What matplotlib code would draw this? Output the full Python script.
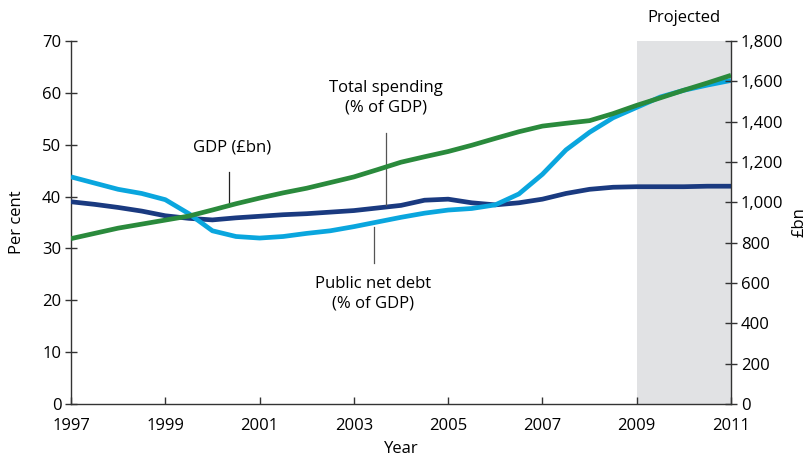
import matplotlib
matplotlib.use("Agg")
import matplotlib.pyplot as plt
import numpy as np

plt.rcParams['font.family'] = ['Open Sans', 'DejaVu Sans']

years = np.arange(1997, 2011.01, 0.5)
total_spending = [39.0, 38.5, 37.9, 37.2, 36.3, 35.8, 35.5, 35.9, 36.2, 36.5, 36.7, 37.0,
                  37.3, 37.8, 38.3, 39.3, 39.5, 38.8, 38.4, 38.8, 39.5, 40.6, 41.4, 41.8,
                  41.9, 41.9, 41.9, 42.0, 42.0]
net_debt = [43.8, 42.6, 41.4, 40.6, 39.4, 36.7, 33.4, 32.3, 32.0, 32.3, 32.9, 33.4,
            34.2, 35.1, 36.0, 36.8, 37.4, 37.7, 38.4, 40.5, 44.3, 49.0, 52.4, 55.2,
            57.2, 59.2, 60.5, 61.5, 62.4]
gdp_bn = [820, 846, 872, 892, 912, 932, 962, 993, 1021, 1047, 1070, 1098,
          1126, 1162, 1199, 1226, 1252, 1283, 1317, 1350, 1378, 1392, 1405, 1440,
          1481, 1518, 1556, 1592, 1630]
xticks = [1997, 1999, 2001, 2003, 2005, 2007, 2009, 2011]
left_ticks = [0, 10, 20, 30, 40, 50, 60, 70]
right_ticks = [0, 200, 400, 600, 800, 1000, 1200, 1400, 1600, 1800]
proj_start, proj_end = 2009, 2011

navy = '#1a3a80'
light = '#0aa6de'
green = '#2a8a3c'

fig = plt.figure(figsize=(8.07, 4.57), dpi=100)
ax = fig.add_axes([71/807, 53/457, 660/807, 363/457])
ax.set_xlim(1997, 2011)
ax.set_ylim(0, 70)
ax.axvspan(proj_start, proj_end, color='#e1e2e4', lw=0, zorder=0)

ax.plot(years, total_spending, color=navy, lw=3.4, solid_capstyle='butt', zorder=3)
ax.plot(years, net_debt, color=light, lw=3.4, solid_capstyle='butt', zorder=3)

ax2 = ax.twinx()
ax2.set_ylim(0, 1800)
ax2.plot(years, gdp_bn, color=green, lw=3.4, solid_capstyle='butt', zorder=4)

for a in (ax, ax2):
    a.spines['top'].set_visible(False)
    for s in ('left', 'right', 'bottom'):
        a.spines[s].set_color('#333333')
        a.spines[s].set_linewidth(1.0)
ax.spines['right'].set_visible(False)
ax2.spines['left'].set_visible(False)
ax2.spines['bottom'].set_visible(False)

ax.set_xticks(xticks)
ax.set_xticklabels([str(x) for x in xticks])
ax.set_yticks(left_ticks)
ax2.set_yticks(right_ticks)
ax2.set_yticklabels([f'{v:,}' for v in right_ticks])

ax.tick_params(axis='x', direction='in', length=5, width=1, color='#333333',
               labelsize=12, pad=10)
ax.tick_params(axis='y', direction='inout', length=8, width=1, color='#333333',
               labelsize=12, pad=3)
ax2.tick_params(axis='y', direction='inout', length=8, width=1, color='#333333',
                labelsize=12, pad=3)

ax.set_ylabel('Per cent', fontsize=12, labelpad=12)
ax2.set_ylabel('£bn', fontsize=12, labelpad=6)
ax.set_xlabel('Year', fontsize=12, labelpad=5)

# annotations
ax.plot([2000.35, 2000.35], [38.2, 44.7], color='#222222', lw=0.9, zorder=5)
ax.text(2000.42, 49.4, 'GDP (£bn)', ha='center', va='center', fontsize=12, zorder=6)

ax.plot([2003.68, 2003.68], [38.4, 52.3], color='#555555', lw=0.9, zorder=5)
ax.text(2003.68, 59.1, 'Total spending\n(% of GDP)', ha='center', va='center',
        fontsize=12, linespacing=1.3, zorder=6)

ax.plot([2003.43, 2003.43], [27.2, 34.1], color='#555555', lw=0.9, zorder=5)
ax.text(2003.41, 21.2, 'Public net debt\n(% of GDP)', ha='center', va='center',
        fontsize=12, linespacing=1.3, zorder=6)

ax.text((proj_start + proj_end) / 2, 72.8, 'Projected', ha='center', va='bottom',
        fontsize=12, clip_on=False)

fig.savefig('out.png', dpi=100)
